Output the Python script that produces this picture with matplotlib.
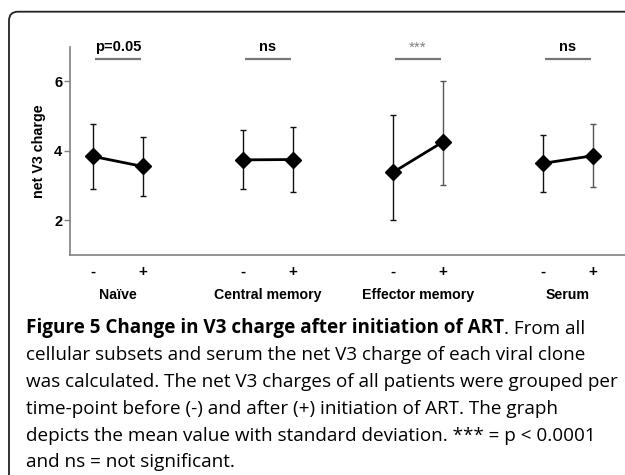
import matplotlib
matplotlib.use("Agg")
import matplotlib.pyplot as plt
import matplotlib.transforms as mtransforms
from matplotlib.patches import FancyBboxPatch

# values
groups = ["Naïve", "Central memory", "Effector memory", "Serum"]
before_mean = [3.84, 3.74, 3.38, 3.64]
before_lo = [2.90, 2.90, 2.00, 2.82]
before_hi = [4.77, 4.60, 5.03, 4.46]
after_mean = [3.55, 3.75, 4.26, 3.86]
after_lo = [2.69, 2.82, 3.02, 2.97]
after_hi = [4.40, 4.70, 6.00, 4.77]
significance = ["p=0.05", "ns", "***", "ns"]
time_labels = ["-", "+"]
y_ticks = [2, 4, 6]

caption_title = "Figure 5 Change in V3 charge after initiation of ART"
caption_lines = [
    ". From all",
    "cellular subsets and serum the net V3 charge of each viral clone",
    "was calculated. The net V3 charges of all patients were grouped per",
    "time-point before (-) and after (+) initiation of ART. The graph",
    "depicts the mean value with standard deviation. *** = p < 0.0001",
    "and ns = not significant.",
]

W, H = 625, 475
fig = plt.figure(figsize=(W / 100, H / 100), dpi=100)
plt.rcParams["font.family"] = ["Liberation Sans", "DejaVu Sans"]

# panel frame with rounded top-left corner (runs off right/bottom edge)
frame = FancyBboxPatch((9, -60), 800, H - 11.7 + 60,
                       boxstyle="round,pad=0,rounding_size=9",
                       transform=mtransforms.IdentityTransform(),
                       fill=False, edgecolor="#222222", linewidth=1.3)
fig.patches.append(frame)

ax_left, ax_top, ax_bottom = 70, 46.7, 255
xmin, xmax = 0.54, 12.0
px_per_unit = 50
ax_w = (xmax - xmin) * px_per_unit
ax = fig.add_axes([ax_left / W, 1 - ax_bottom / H, ax_w / W, (ax_bottom - ax_top) / H])
ax.set_xlim(xmin, xmax)
ax.set_ylim(1, 7)

axis_grey = "#808080"
for s in ["top", "right"]:
    ax.spines[s].set_visible(False)
for s in ["left", "bottom"]:
    ax.spines[s].set_color(axis_grey)
    ax.spines[s].set_linewidth(1.2)

positions = []
for i, g in enumerate(groups):
    x0 = 1 + 3 * i
    x1 = x0 + 1
    positions += [x0, x1]
    bar_col = "#555555" if i >= 2 else "#111111"
    ax.plot([x0, x1], [before_mean[i], after_mean[i]], color="black", lw=2, zorder=3)
    ax.errorbar([x0], [before_mean[i]],
                yerr=[[before_mean[i] - before_lo[i]], [before_hi[i] - before_mean[i]]],
                fmt="none", ecolor="#111111", elinewidth=1, capsize=2, capthick=1, zorder=2)
    ax.errorbar([x1], [after_mean[i]],
                yerr=[[after_mean[i] - after_lo[i]], [after_hi[i] - after_mean[i]]],
                fmt="none", ecolor=bar_col, elinewidth=1, capsize=2, capthick=1, zorder=2)
    ax.plot([x0, x1], [before_mean[i], after_mean[i]], "D", color="black", ms=8, zorder=4)

    # significance bar and label
    ax.plot([x0 + 0.04, x1 - 0.04], [6.64, 6.64], color="#777777", lw=1.6,
            clip_on=False, solid_capstyle="butt")
    if significance[i] == "***":
        ax.text((x0 + x1) / 2, 6.86, significance[i], ha="center", va="baseline",
                fontsize=11, color="#808080", clip_on=False)
    else:
        ax.text((x0 + x1) / 2, 7.0, significance[i], ha="center", va="center",
                fontsize=10.5, fontweight="bold", clip_on=False)

    ax.text((x0 + x1) / 2, -0.19, g, transform=ax.get_xaxis_transform(),
            ha="center", va="center", fontsize=10.2, fontweight="bold")

ax.set_xticks(positions)
ax.set_xticklabels(time_labels * len(groups), fontsize=11, fontweight="bold")
ax.tick_params(axis="x", length=0, pad=7)
ax.set_yticks(y_ticks)
ax.set_yticklabels([str(t) for t in y_ticks], fontsize=10.5, fontweight="bold")
ax.tick_params(axis="y", length=4, width=1, color=axis_grey, pad=1.5)
ax.set_ylabel("net V3 charge", fontsize=10.3, fontweight="bold", labelpad=6)

# caption
cap_font = ["Open Sans", "DejaVu Sans"]
cap_size = 13.6
baselines = [333, 360, 387, 414, 441, 467]
title = fig.text(26 / W, 1 - baselines[0] / H, caption_title, family=cap_font,
                 fontsize=cap_size, fontweight="bold", va="baseline")
fig.canvas.draw()
ax.annotate(caption_lines[0], xy=(1, 0), xycoords=title, va="bottom",
            family=cap_font, fontsize=cap_size, annotation_clip=False)
for line, b in zip(caption_lines[1:], baselines[1:]):
    fig.text(26 / W, 1 - b / H, line, family=cap_font, fontsize=cap_size, va="baseline")

fig.savefig("out.png", dpi=100)
